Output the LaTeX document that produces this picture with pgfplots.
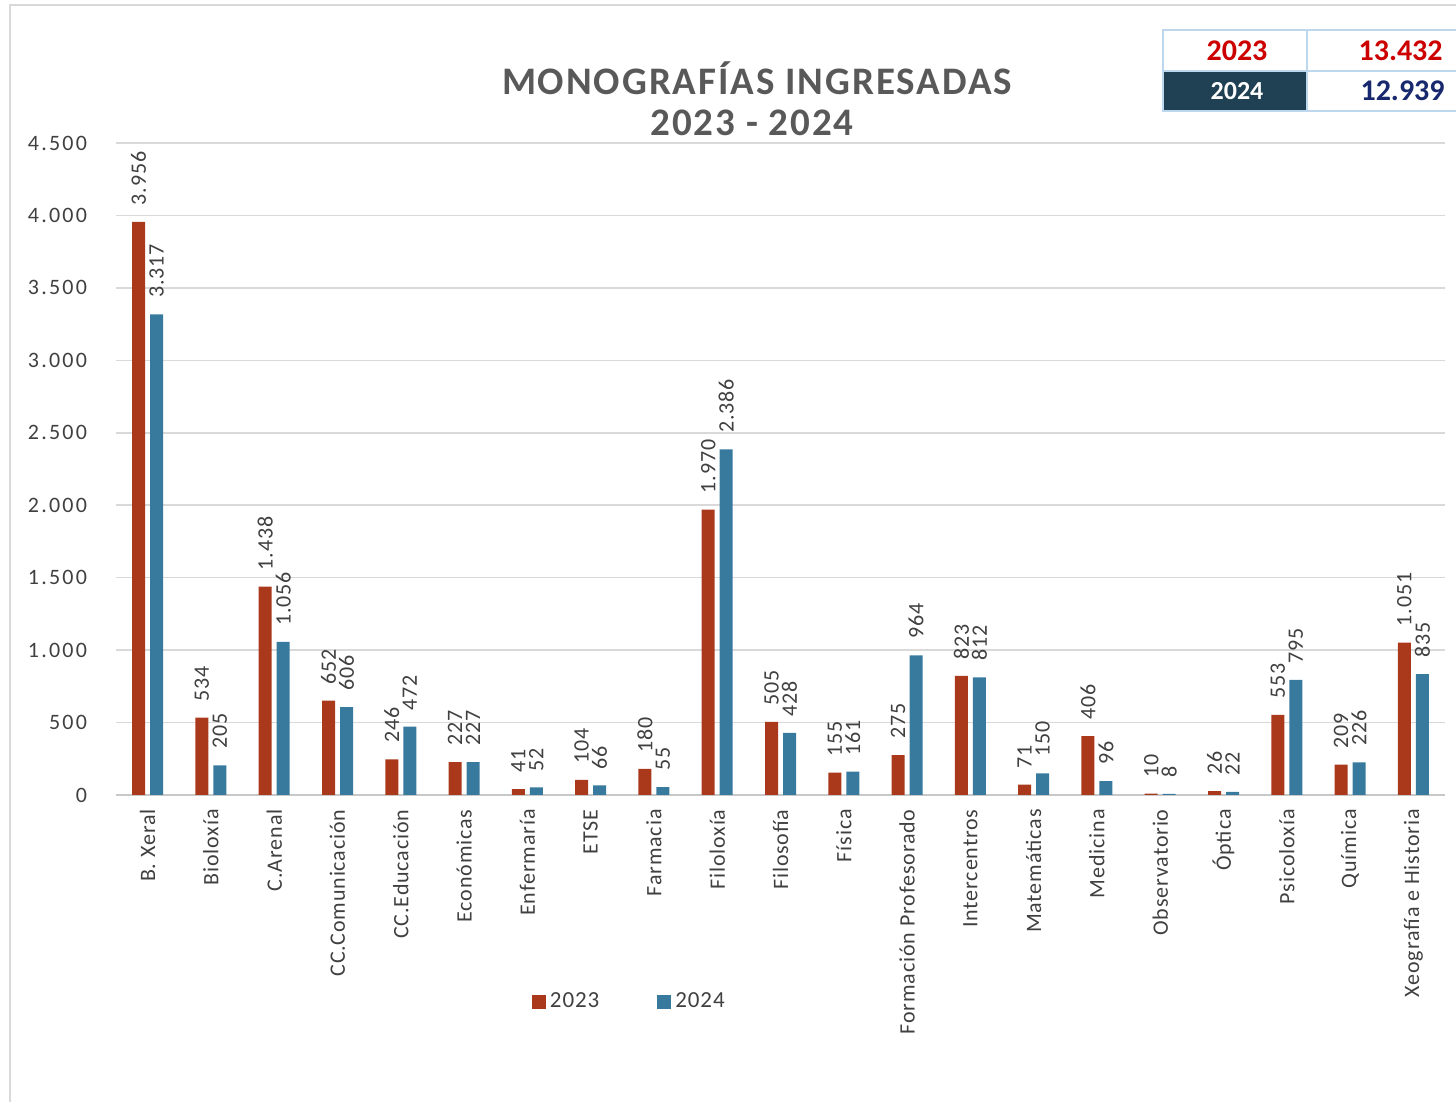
\documentclass[border=0pt]{standalone}
\usepackage{pgfplots}
\pgfplotsset{compat=1.18}
\usepackage{fontspec}
\setmainfont{Carlito}
\definecolor{cRed}{RGB}{170,57,27}
\definecolor{cBlue}{RGB}{56,121,158}
\definecolor{cGrid}{RGB}{217,217,217}
\definecolor{cAxis}{RGB}{200,200,200}
\definecolor{cText}{RGB}{64,64,64}
\definecolor{cTitle}{RGB}{89,89,89}
\definecolor{cFrame}{RGB}{217,217,217}
\definecolor{cBorder}{RGB}{189,215,238}
\definecolor{cDark}{RGB}{32,64,84}
\definecolor{cTabRed}{RGB}{204,0,0}
\definecolor{cNavy}{RGB}{24,40,110}
\begin{document}
\begin{tikzpicture}
\useasboundingbox (0pt,0pt) rectangle (728pt,551pt);
\draw[cFrame, line width=1pt] (5pt,0pt) -- (5pt,548.5pt) -- (728pt,548.5pt);
\begin{axis}[
  at={(58pt,153.5pt)}, anchor=south west,
  scale only axis, width=664.5pt, height=326pt,
  xmin=-0.5, xmax=20.5, ymin=0, ymax=4500,
  ytick={0,500,...,4500},
  xtick={0,...,20},
  xticklabels={B. Xeral,Bioloxía,C.Arenal,CC.Comunicación,CC.Educación,Económicas,Enfermaría,ETSE,Farmacia,Filoloxía,Filosofía,Física,Formación Profesorado,Intercentros,Matemáticas,Medicina,Observatorio,Óptica,Psicoloxía,Química,Xeografía e Historia},
  x tick label style={rotate=90, anchor=east, font=\fontsize{11}{12}\selectfont\addfontfeature{LetterSpace=4}, text=cText, inner sep=0pt},
  xticklabel shift=7pt,
  yticklabel style={font=\fontsize{11}{12}\selectfont\addfontfeature{LetterSpace=10}, text=cText},
  yticklabel shift=11pt,
  /pgf/number format/.cd, 1000 sep={.}, assume math mode=true, /pgfplots/.cd,
  ymajorgrids, grid style={cGrid, line width=0.8pt},
  axis x line*=bottom, axis y line*=left,
  x axis line style={cAxis, line width=0.8pt, -},
  y axis line style={draw=none},
  major tick length=0pt,
  ybar=2.5pt, bar width=6.5pt,
  nodes near coords,
  every node near coord/.append style={rotate=90, anchor=west, inner sep=0pt, xshift=8pt, font=\fontsize{11}{12}\selectfont\addfontfeature{LetterSpace=4}, text=cText},
  legend style={at={(0.387,-0.317)}, anchor=center, draw=none, fill=none, legend columns=2, font=\fontsize{11.5}{12}\selectfont\addfontfeature{LetterSpace=4}, text=cText, /tikz/every even column/.append style={column sep=27pt}},
  legend image code/.code={\fill[#1] (0pt,-3.5pt) rectangle (7pt,3.5pt);},
]
\addplot[fill=cRed, draw=none] coordinates {(0,3956) (1,534) (2,1438) (3,652) (4,246) (5,227) (6,41) (7,104) (8,180) (9,1970) (10,505) (11,155) (12,275) (13,823) (14,71) (15,406) (16,10) (17,26) (18,553) (19,209) (20,1051)};
\addplot[fill=cBlue, draw=none] coordinates {(0,3317) (1,205) (2,1056) (3,606) (4,472) (5,227) (6,52) (7,66) (8,55) (9,2386) (10,428) (11,161) (12,964) (13,812) (14,150) (15,96) (16,8) (17,22) (18,795) (19,226) (20,835)};
\legend{2023,2024}
\end{axis}
\node[font=\bfseries\fontsize{19.5}{21}\selectfont\addfontfeature{LetterSpace=5}, text=cTitle] at (378.5pt,512pt) {MONOGRAFÍAS INGRESADAS};
\node[font=\bfseries\fontsize{19.5}{21}\selectfont\addfontfeature{LetterSpace=5}, text=cTitle] at (376pt,489.5pt) {2023 - 2024};
\fill[white] (581.5pt,495.5pt) rectangle (740pt,536pt);
\fill[cDark] (581.5pt,495.5pt) rectangle (653.5pt,515.5pt);
\draw[cBorder, line width=1pt] (581.5pt,495.5pt) rectangle (740pt,536pt);
\draw[cBorder, line width=1pt] (653.5pt,495.5pt) -- (653.5pt,536pt);
\draw[cBorder, line width=1pt] (581.5pt,515.5pt) -- (740pt,515.5pt);
\node[font=\bfseries\fontsize{15}{16}\selectfont, text=cTabRed] at (618.5pt,525.75pt) {2023};
\node[font=\bfseries\fontsize{15}{16}\selectfont, text=cTabRed, anchor=east, inner sep=0pt] at (721.5pt,525.75pt) {13.432};
\node[font=\bfseries\fontsize{13}{14}\selectfont, text=white] at (618.5pt,505.5pt) {2024};
\node[font=\bfseries\fontsize{15}{16}\selectfont, text=cNavy, anchor=east, inner sep=0pt] at (722.5pt,505.5pt) {12.939};
\end{tikzpicture}
\end{document}
